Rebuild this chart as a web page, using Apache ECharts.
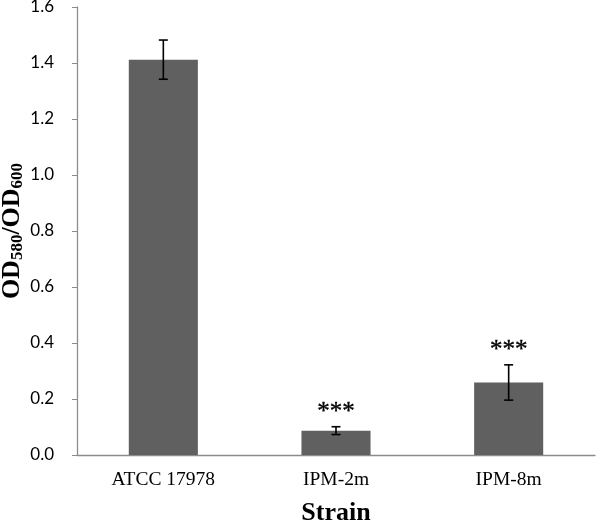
<!DOCTYPE html>
<html><head><meta charset="utf-8">
<script src="https://cdn.jsdelivr.net/npm/echarts@6/dist/echarts.min.js"></script>
<style>html,body{margin:0;padding:0;background:#fff}#c{width:600px;height:523px}</style>
</head><body><div id="c"></div>
<script>
const categories = ['ATCC 17978', 'IPM-2m', 'IPM-8m'];
const means = [1.412, 0.087, 0.259];
const errors = [0.07, 0.014, 0.063];
const significance = ['', '***', '***'];
const yTicks = [0, 0.2, 0.4, 0.6, 0.8, 1.0, 1.2, 1.4, 1.6];

const chart = echarts.init(document.getElementById('c'));
chart.setOption({
  animation: false,
  grid: {left: 77, right: 5, top: 7, bottom: 68, containLabel: false, outerBoundsMode: 'none'},
  xAxis: {
    type: 'category', data: categories,
    axisLine: {lineStyle: {color: '#8c8c8c', width: 1.3}},
    axisTick: {length: 5, lineStyle: {color: '#8c8c8c'}},
    axisLabel: {color: '#000', fontFamily: 'Liberation Serif', fontSize: 19.5, margin: 15},
    name: 'Strain', nameLocation: 'middle', nameGap: 45, nameMoveOverlap: false,
    nameTextStyle: {color: '#000', fontFamily: 'Liberation Serif', fontWeight: 'bold', fontSize: 26}
  },
  yAxis: {
    type: 'value', min: yTicks[0], max: yTicks[yTicks.length - 1], interval: 0.2,
    axisLine: {show: true, lineStyle: {color: '#8c8c8c', width: 1.3}},
    axisTick: {show: true, length: 5, lineStyle: {color: '#8c8c8c'}},
    splitLine: {show: false},
    axisLabel: {color: '#000', fontFamily: 'Lato', fontSize: 17, margin: 23,
      formatter: v => v.toFixed(1)},
    name: '{a|OD}{s|580}{a|/OD}{s|600}', nameLocation: 'middle', nameGap: 51, nameMoveOverlap: false,
    nameTextStyle: {
      rich: {
        a: {fontFamily: 'Liberation Serif', fontWeight: 'bold', fontSize: 26, color: '#000'},
        s: {fontFamily: 'Liberation Serif', fontWeight: 'bold', fontSize: 17, color: '#000', verticalAlign: 'bottom', padding: [10, 0, 0, 0]}
      }
    }
  },
  series: [
    {
      type: 'bar', data: means, barWidth: '40%',
      itemStyle: {color: '#606060'}
    },
    {
      type: 'custom',
      data: means.map((m, i) => [i, m - errors[i], m + errors[i]]),
      renderItem: function (params, api) {
        const i = api.value(0);
        const lo = api.coord([i, api.value(1)]);
        const hi = api.coord([i, api.value(2)]);
        const hw = 4.5;
        const st = {stroke: '#000', lineWidth: 1.6};
        const children = [
          {type: 'line', shape: {x1: hi[0], y1: hi[1], x2: lo[0], y2: lo[1]}, style: st},
          {type: 'line', shape: {x1: hi[0] - hw, y1: hi[1], x2: hi[0] + hw, y2: hi[1]}, style: st},
          {type: 'line', shape: {x1: lo[0] - hw, y1: lo[1], x2: lo[0] + hw, y2: lo[1]}, style: st}
        ];
        if (significance[i]) {
          children.push({type: 'text', style: {
            text: significance[i], x: hi[0], y: hi[1] - 2,
            align: 'center', verticalAlign: 'bottom',
            font: '25px "Liberation Serif"', fill: '#000', stroke: '#000', lineWidth: 0.4
          }});
        }
        return {type: 'group', children};
      },
      z: 10
    }
  ]
});
</script></body></html>
